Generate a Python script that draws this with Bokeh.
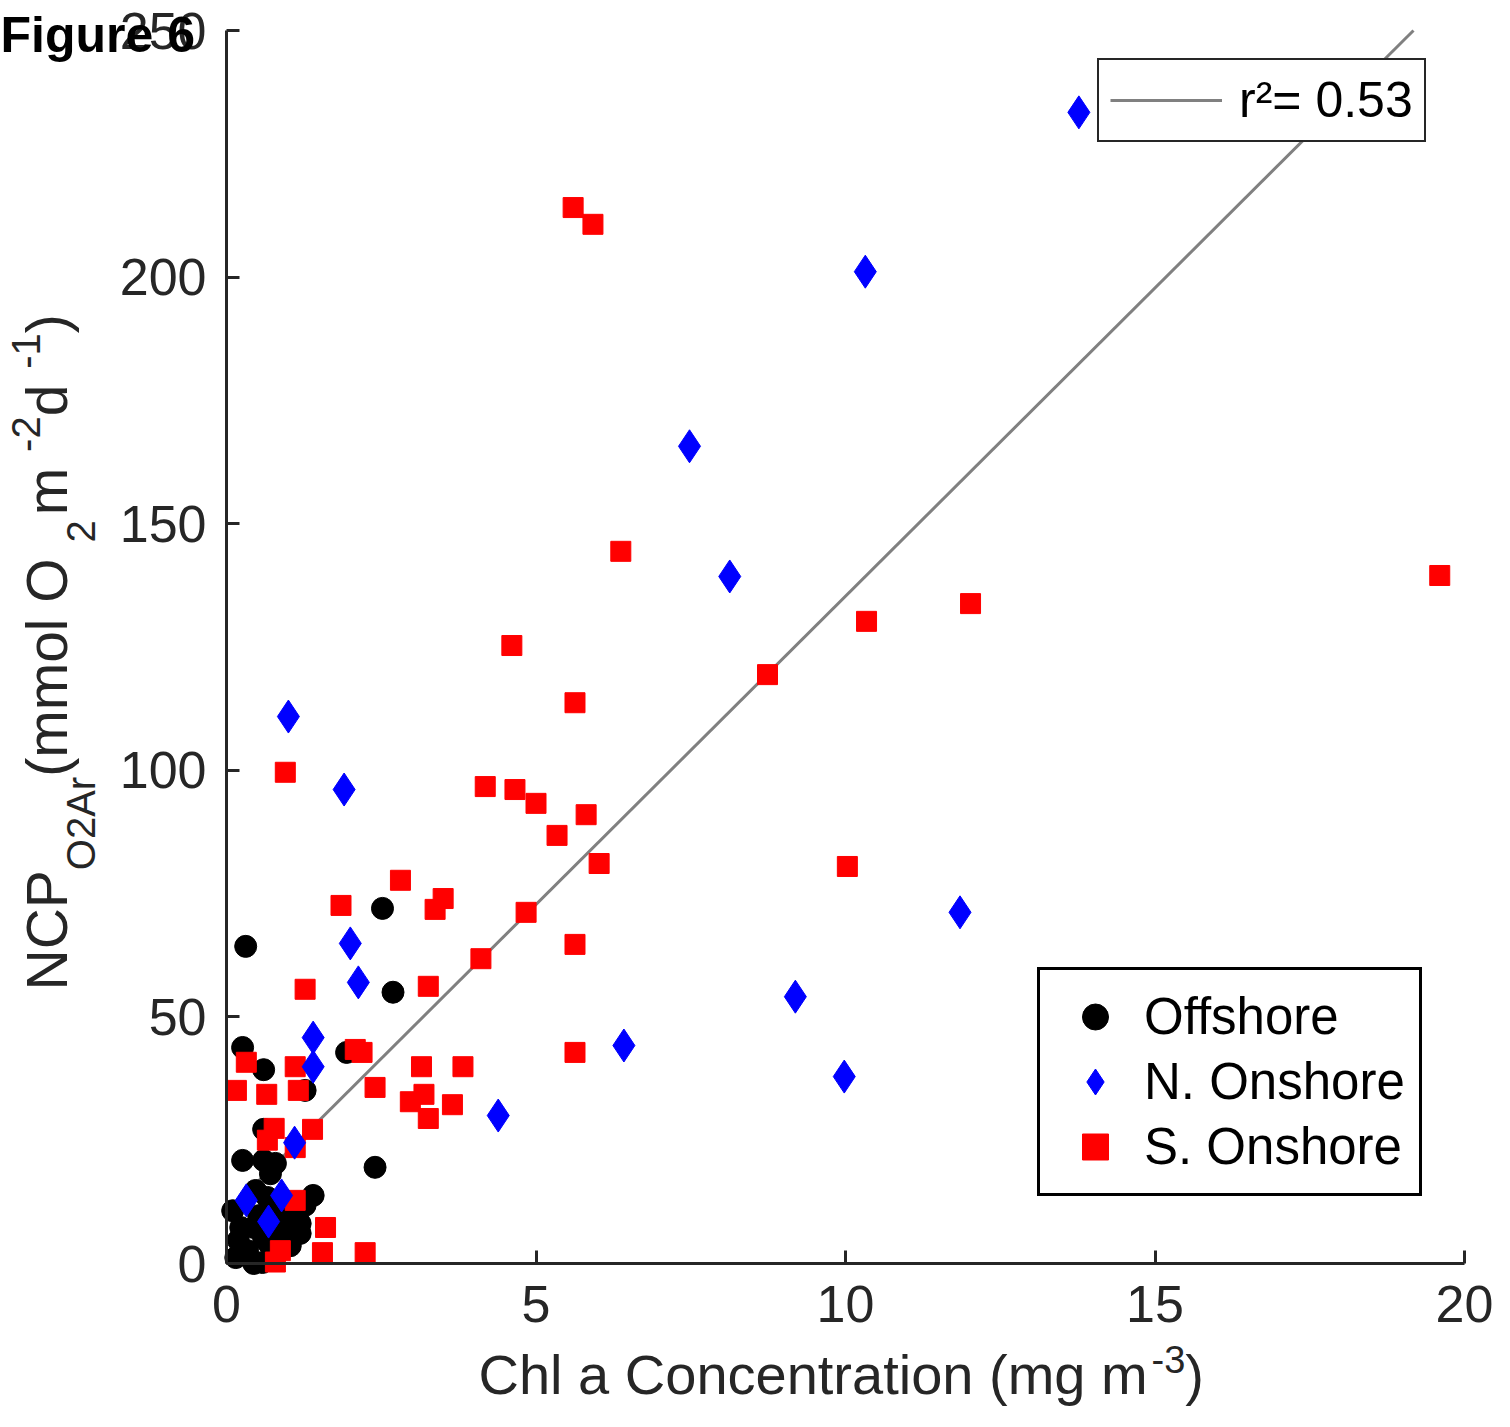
import numpy as np
from bokeh.plotting import figure
from bokeh.models import Range1d, Legend, LegendItem, Label, LinearAxis, FixedTicker
from bokeh.embed import file_html
from bokeh.resources import INLINE

# ---------------- data ----------------
off_x = [0.31, 2.52, 2.69, 0.26, 1.94, 0.60, 1.27, 0.60, 2.40, 0.26, 0.60, 0.79, 0.71,
         1.40, 0.66, 0.84, 1.03, 1.19, 0.23, 0.44, 0.92, 1.19, 0.60, 0.15, 0.34, 0.76,
         0.44, 0.68, 0.52, 0.19, 0.98, 0.10, 0.47, 1.03, 1.27, 0.58, 0.87]
off_y = [64.3, 72.0, 55.0, 43.8, 42.8, 39.3, 35.1, 27.2, 19.5, 20.9, 20.9, 20.3, 18.2,
         13.8, 13.4, 11.8, 10.7, 8.1, 7.3, 7.3, 6.1, 6.1, 5.1, 1.2, 2.6, 2.0,
         0.0, 4.1, 9.7, 4.7, 8.3, 10.7, 14.8, 3.6, 11.8, 0.2, 9.1]

non_x = [13.77, 10.32, 7.48, 8.13, 1.00, 1.90, 2.00, 2.13, 11.85, 9.19, 6.42, 9.98,
         4.39, 1.40, 1.40, 1.10, 0.32, 0.89, 0.68]
non_y = [233.4, 201.1, 165.7, 139.3, 110.9, 96.1, 64.9, 57.0, 71.2, 54.1, 44.2, 37.9,
         30.0, 45.8, 39.9, 24.5, 12.8, 13.8, 8.5]

son_x = [5.60, 5.92, 6.37, 19.60, 12.02, 10.34, 4.61, 8.74, 5.63, 0.95, 4.18, 4.66,
         5.00, 5.81, 5.34, 6.02, 10.03, 2.81, 1.85, 3.50, 3.37, 4.84, 5.63, 4.11,
         1.27, 3.26, 5.63, 3.82, 3.15, 2.08, 2.19, 2.40, 2.97, 3.19, 3.26, 3.65,
         0.16, 0.32, 0.65, 1.11, 1.16, 1.39, 0.77, 0.66, 1.11, 1.60, 1.55, 2.24,
         1.11, 0.87, 0.79]
son_y = [214.1, 210.7, 144.4, 139.5, 133.8, 130.2, 125.3, 119.4, 113.7, 99.6, 96.7, 96.1,
         93.3, 91.0, 86.8, 81.1, 80.5, 77.7, 72.6, 74.0, 71.8, 71.2, 64.7, 61.8,
         55.6, 56.2, 42.8, 39.9, 39.9, 43.4, 42.8, 35.7, 32.8, 34.3, 29.4, 32.2,
         35.1, 40.8, 34.3, 39.9, 35.1, 27.2, 27.4, 25.0, 23.5, 7.3, 2.2, 2.2,
         12.8, 2.6, 0.3]

fit_intercept = 10.3
fit_slope = 12.5
r2_text = "r\u00b2= 0.53"

series_labels = ["Offshore", "N. Onshore", "S. Onshore"]
x_ticks = [0, 5, 10, 15, 20]
y_ticks = [0, 50, 100, 150, 200, 250]
x_lim = (0, 20)
y_lim = (0, 250)
fig_label = "Figure 6"

# ---------------- layout constants (pixels) ----------------
CW, CH = 1510, 1427
FL, FR, FT, FB = 226, 1464, 30, 1263     # where the axes box sits on the canvas

sx = (FR - FL) / (x_lim[1] - x_lim[0])
sy = (FB - FT) / (y_lim[1] - y_lim[0])
xr = Range1d(x_lim[0] - FL / sx, x_lim[1] + (CW - FR) / sx)
yr = Range1d(y_lim[0] - (CH - FB) / sy, y_lim[1] + FT / sy)

ARIAL = {'N': 722, 'C': 722, 'P': 667, 'O': 778, 'A': 667, 'r': 333, ' ': 278, '(': 333,
         ')': 333, 'm': 833, 'o': 556, 'l': 222, 'd': 556, '-': 333, 'h': 556, 'a': 556,
         'n': 556, 'c': 500, 'e': 556, 't': 278, 'i': 222, 'g': 556, '.': 278}


def tw(s, size):
    return sum(ARIAL.get(ch, 556) for ch in s) / 1000.0 * size


FONT = "Liberation Sans"
TXT = "#262626"
BASE_FIX = 0.42   # Bokeh's label baseline sits this fraction of the font size below y

p = figure(width=CW, height=CH, x_range=xr, y_range=yr,
           x_axis_location=None, y_axis_location=None,
           output_backend="svg", toolbar_location=None,
           min_border_left=0, min_border_right=0, min_border_top=0, min_border_bottom=0)
p.background_fill_color = "white"
p.border_fill_color = "white"
p.outline_line_color = None
p.xgrid.visible = False
p.ygrid.visible = False

xaxis = LinearAxis(fixed_location=y_lim[0], bounds=x_lim, ticker=FixedTicker(ticks=x_ticks))
yaxis = LinearAxis(fixed_location=x_lim[0], bounds=y_lim, ticker=FixedTicker(ticks=y_ticks))
for ax in (xaxis, yaxis):
    ax.axis_line_width = 3
    ax.axis_line_color = TXT
    ax.major_tick_line_width = 3
    ax.major_tick_line_color = TXT
    ax.major_tick_in = 13
    ax.major_tick_out = 0
    ax.minor_tick_line_color = None
    ax.major_label_text_font = FONT
    ax.major_label_text_font_size = "52px"
    ax.major_label_text_color = TXT
xaxis.major_label_standoff = 22
yaxis.major_label_standoff = 20

# fit line, from x=0 up to where it leaves the top of the axes
fit_x = [x_lim[0], (y_lim[1] - fit_intercept) / fit_slope]
fit_y = [fit_intercept + fit_slope * v for v in fit_x]
r_fit = p.line(fit_x, fit_y, line_color="#808080", line_width=3)

r_off = p.scatter(off_x, off_y, marker="circle", size=22, fill_color="black", line_color="black")
r_son = p.scatter(son_x, son_y, marker="square", size=20, fill_color="#ff0000", line_color="#ff0000")
r_non = p.scatter(non_x, non_y, marker="diamond", size=33, fill_color="#0000ff", line_color="#0000ff")

p.add_layout(xaxis, "below")
p.add_layout(yaxis, "left")

leg = Legend(items=[LegendItem(label=series_labels[0], renderers=[r_off]),
                    LegendItem(label=series_labels[1], renderers=[r_non]),
                    LegendItem(label=series_labels[2], renderers=[r_son])],
             location=(1037, CH - 1196), glyph_width=82, glyph_height=65, spacing=0,
             padding=14, label_standoff=8, label_text_font=FONT, label_text_font_size="51px",
             label_text_color="black", border_line_color="black", border_line_width=3,
             border_line_alpha=1.0, background_fill_alpha=1.0, margin=0)
p.add_layout(leg)

leg2 = Legend(items=[LegendItem(label=r2_text, renderers=[r_fit])],
              location=(1097, CH - 142), glyph_width=112, glyph_height=52, spacing=0,
              padding=11, label_standoff=17, label_text_font=FONT, label_text_font_size="50px",
              label_text_color="black", border_line_color=TXT, border_line_width=2,
              border_line_alpha=1.0, background_fill_alpha=1.0, margin=0)
p.add_layout(leg2)


def add_text(x, y, txt, fs, angle=0.0, bold=False, color=TXT):
    # x, y: start of the text on its baseline, in canvas pixels
    if angle:
        x = x - BASE_FIX * fs
    else:
        y = y - BASE_FIX * fs
    p.add_layout(Label(x=x, y=y, x_units="canvas", y_units="canvas", text=txt,
                       angle=angle, text_font=FONT, text_font_size=f"{fs}px",
                       text_font_style="bold" if bold else "normal",
                       text_color=color, text_align="left", text_baseline="alphabetic",
                       level="overlay"))


# ---------------- y axis label (rotated, with sub/superscripts) ----------------
YB = 70
cur = 990
# (text, font size, baseline shift (+ = subscript), gap before)
ypieces = [("NCP", 57, 0, 0), ("O2Ar", 40, 27, 0), (" (mmol O", 57, 0, 0), ("2", 40, 27, 0),
           (" m", 57, 0, 5), ("-2", 40, -28, 0), (" d", 57, 0, 0), ("-1", 40, -28, 0),
           (")", 57, 0, 0)]
for txt, fs, off, gap in ypieces:
    cur -= gap
    add_text(YB + off, cur, txt, fs, angle=np.pi / 2)
    cur -= tw(txt, fs)

# ---------------- x axis label ----------------
XB = 1398
cur = 478
xpieces = [("Chl a Concentration (mg m", 56, 0, 0), ("-3", 38, -23, 4), (")", 56, 0, 0)]
for txt, fs, off, gap in xpieces:
    cur += gap
    add_text(cur, XB + off, txt, fs)
    cur += tw(txt, fs)

add_text(0, 55, fig_label, 50, bold=True, color="black")

open("out.html", "w").write(file_html(p, INLINE))
